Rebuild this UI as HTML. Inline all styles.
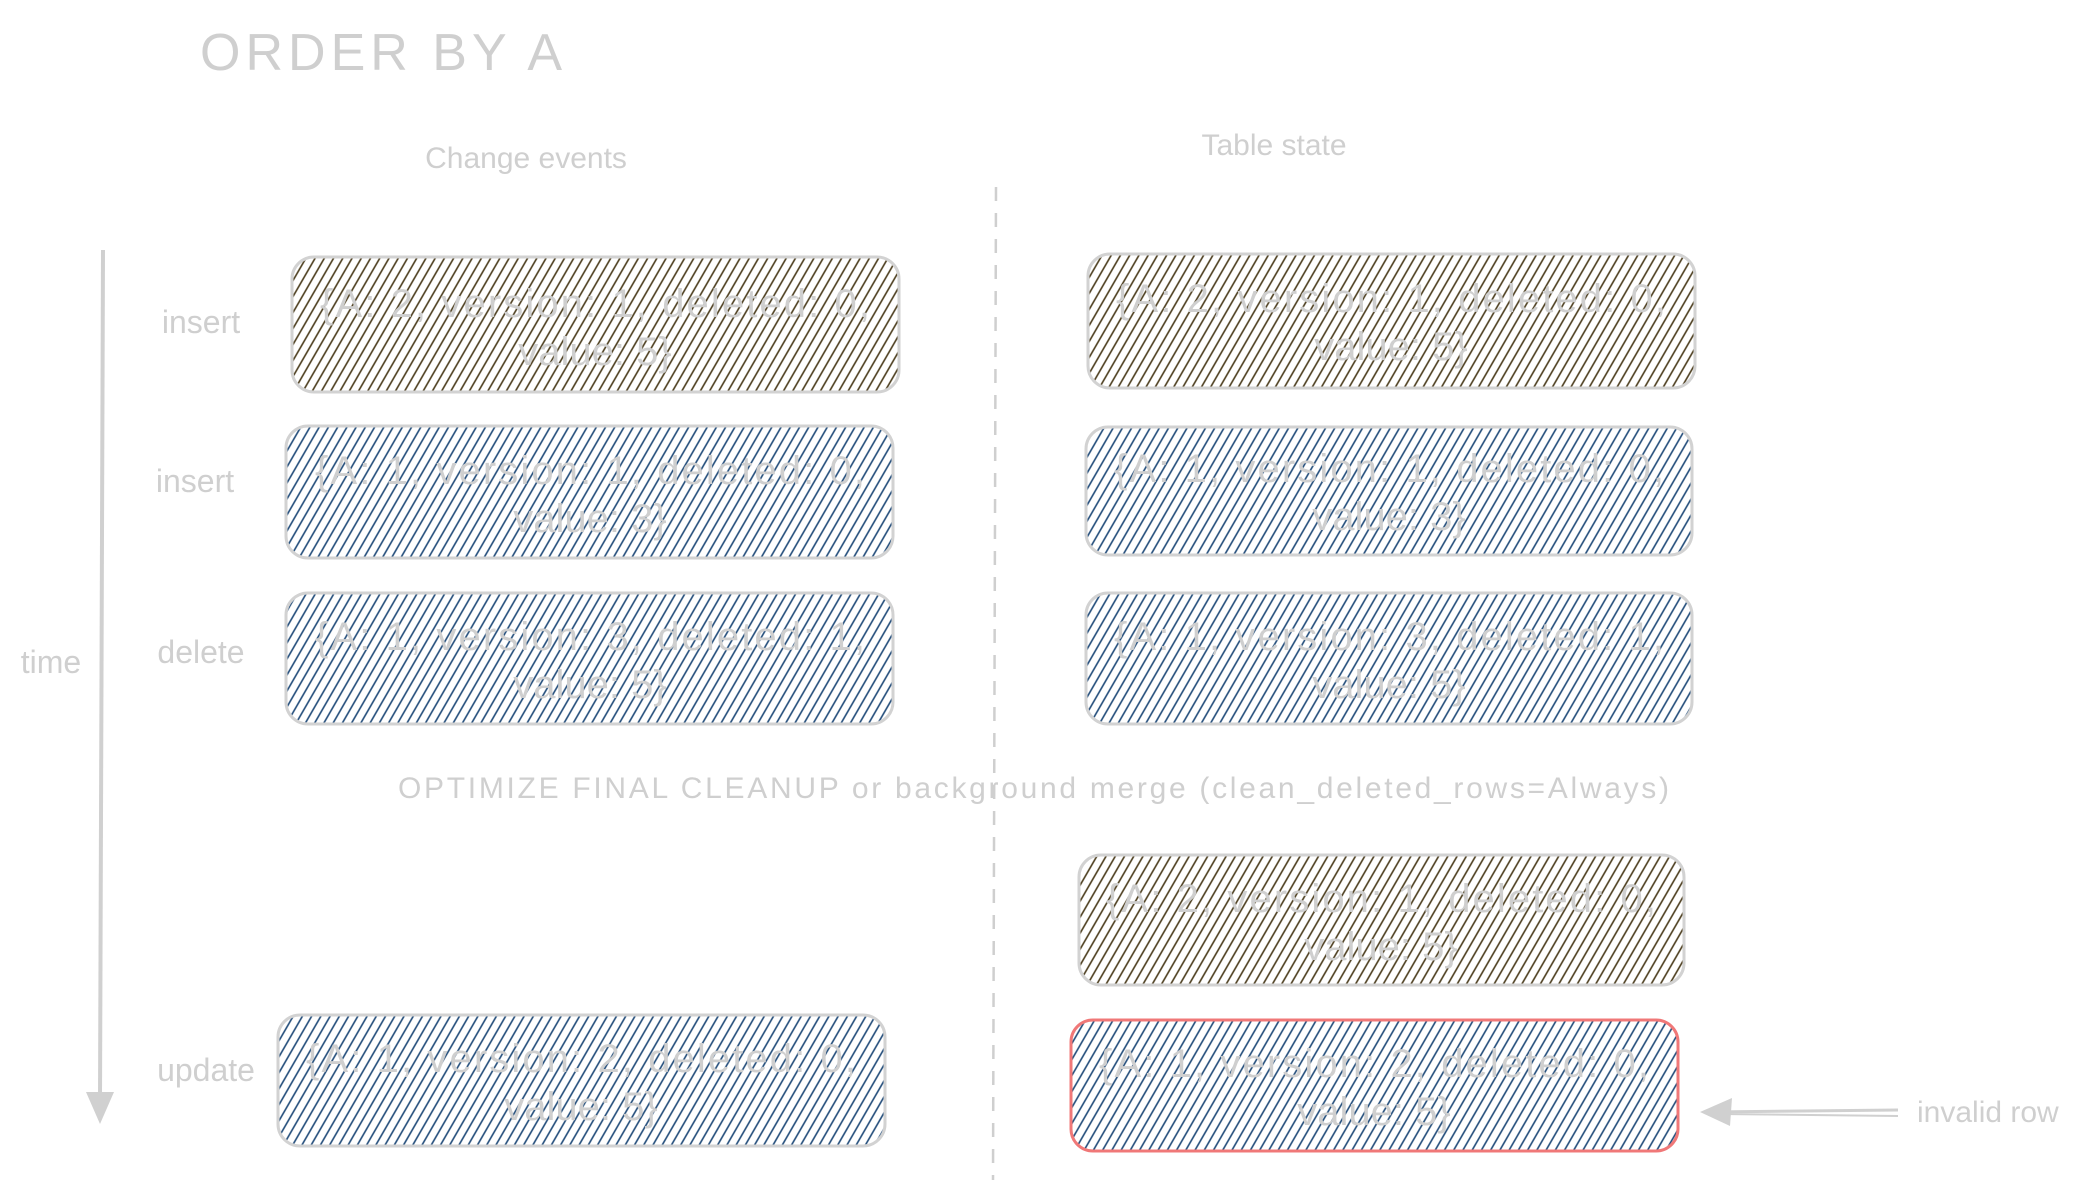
<!DOCTYPE html>
<html><head><meta charset="utf-8"><style>
html,body{margin:0;padding:0;background:#fff;width:2088px;height:1192px;overflow:hidden}
svg text{font-family:"Liberation Sans",sans-serif;fill:#cfcfcf}
</style></head><body>
<svg width="2088" height="1192" viewBox="0 0 2088 1192" xmlns="http://www.w3.org/2000/svg">
<defs>
<pattern id="hb" width="8" height="20" patternUnits="userSpaceOnUse" patternTransform="rotate(30)">
<line x1="2" y1="0" x2="2" y2="20" stroke="#4a3b1c" stroke-width="1.6"/></pattern>
<pattern id="hl" width="8" height="20" patternUnits="userSpaceOnUse" patternTransform="rotate(30)">
<line x1="2" y1="0" x2="2" y2="20" stroke="#1f4a78" stroke-width="1.6"/></pattern>
</defs>
<text x="200" y="70" font-size="52" fill="#d0d0d0" textLength="362">ORDER BY A</text>
<text x="526" y="168" font-size="30" text-anchor="middle">Change events</text>
<text x="1274" y="155" font-size="30" text-anchor="middle">Table state</text>
<line x1="996" y1="187" x2="993" y2="1180" stroke="#cfcfcf" stroke-width="2.5" stroke-dasharray="14,12"/>
<line x1="103" y1="250" x2="100" y2="1100" stroke="#d0d0d0" stroke-width="4"/>
<polygon points="86,1092 114,1092 100,1124" fill="#d0d0d0"/>
<g font-size="32">
<text x="201" y="333" text-anchor="middle">insert</text>
<text x="195" y="492" text-anchor="middle">insert</text>
<text x="201" y="663" text-anchor="middle">delete</text>
<text x="206" y="1081" text-anchor="middle">update</text>
<text x="51" y="673" text-anchor="middle">time</text>
</g>
<g stroke="#d2d2d2" stroke-width="3">
<rect x="292" y="257" width="607" height="135" rx="22" fill="url(#hb)"/>
<rect x="286" y="426" width="607" height="132" rx="22" fill="url(#hl)"/>
<rect x="286" y="593" width="607" height="131" rx="22" fill="url(#hl)"/>
<rect x="278" y="1015" width="607" height="131" rx="22" fill="url(#hl)"/>
<rect x="1088" y="254" width="607" height="134" rx="22" fill="url(#hb)"/>
<rect x="1086" y="427" width="606" height="128" rx="22" fill="url(#hl)"/>
<rect x="1086" y="593" width="606" height="131" rx="22" fill="url(#hl)"/>
<rect x="1079" y="855" width="605" height="130" rx="22" fill="url(#hb)"/>
<rect x="1071" y="1020" width="607" height="131" rx="22" fill="url(#hl)" stroke="#f07878"/>
</g>
<g font-size="40" text-anchor="middle" fill="#d4d4d4">
<text x="595" y="317" textLength="550">{A: 2, version: 1, deleted: 0,</text><text x="595" y="365">value: 5}</text>
<text x="590" y="484" textLength="550">{A: 1, version: 1, deleted: 0,</text><text x="590" y="532">value: 3}</text>
<text x="590" y="650" textLength="550">{A: 1, version: 3, deleted: 1,</text><text x="590" y="698">value: 5}</text>
<text x="581" y="1072" textLength="550">{A: 1, version: 2, deleted: 0,</text><text x="581" y="1120">value: 5}</text>
<text x="1391" y="312" textLength="550">{A: 2, version: 1, deleted: 0,</text><text x="1391" y="360">value: 5}</text>
<text x="1389" y="482" textLength="550">{A: 1, version: 1, deleted: 0,</text><text x="1389" y="530">value: 3}</text>
<text x="1389" y="650" textLength="550">{A: 1, version: 3, deleted: 1,</text><text x="1389" y="698">value: 5}</text>
<text x="1381" y="912" textLength="550">{A: 2, version: 1, deleted: 0,</text><text x="1381" y="960">value: 5}</text>
<text x="1374" y="1077" textLength="550">{A: 1, version: 2, deleted: 0,</text><text x="1374" y="1125">value: 5}</text>
</g>
<text x="398" y="798" font-size="30" textLength="1271">OPTIMIZE FINAL CLEANUP or background merge (clean_deleted_rows=Always)</text>
<line x1="1898" y1="1110" x2="1710" y2="1112" stroke="#d0d0d0" stroke-width="3"/>
<line x1="1898" y1="1116" x2="1720" y2="1114" stroke="#d0d0d0" stroke-width="2"/>
<polygon points="1700,1112 1732,1098 1730,1126" fill="#d0d0d0"/>
<text x="1917" y="1122" font-size="30">invalid row</text>
</svg>
</body></html>
